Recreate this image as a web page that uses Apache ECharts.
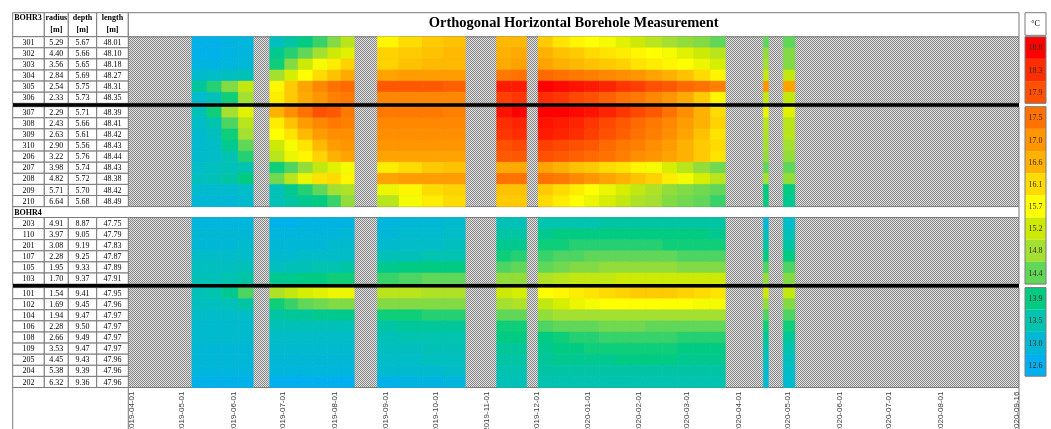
<!DOCTYPE html>
<html><head><meta charset="utf-8">
<script src="https://cdn.jsdelivr.net/npm/echarts@6/dist/echarts.min.js"></script>
<style>html,body{margin:0;padding:0;background:#fff}#c{width:1051px;height:429px}</style>
</head><body><div id="c"></div>
<script>
// ---------- DATA ----------
const colStart = ['2019-05-07','2019-05-16','2019-05-25','2019-06-04',
 '2019-06-23','2019-07-02','2019-07-10','2019-07-19','2019-07-28','2019-08-05',
 '2019-08-27','2019-09-09','2019-09-23','2019-10-06',
 '2019-11-07','2019-11-16',
 '2019-12-02','2019-12-11','2019-12-21','2019-12-30','2020-01-08','2020-01-18','2020-01-27','2020-02-05','2020-02-15','2020-02-24','2020-03-05','2020-03-15',
 '2020-04-16','2020-04-28'];
const colEnd = ['2019-05-16','2019-05-25','2019-06-04','2019-06-13',
 '2019-07-02','2019-07-10','2019-07-19','2019-07-28','2019-08-05','2019-08-13',
 '2019-09-09','2019-09-23','2019-10-06','2019-10-19',
 '2019-11-16','2019-11-25',
 '2019-12-11','2019-12-21','2019-12-30','2020-01-08','2020-01-18','2020-01-27','2020-02-05','2020-02-15','2020-02-24','2020-03-05','2020-03-15','2020-03-24',
 '2020-04-19','2020-05-05'];
const tickDates = ['2019-04-01','2019-05-01','2019-06-01','2019-07-01','2019-08-01','2019-09-01','2019-10-01','2019-11-01','2019-12-01',
 '2020-01-01','2020-02-01','2020-03-01','2020-04-01','2020-05-01','2020-06-01','2020-07-01','2020-08-01','2020-09-16'];

const bohr3UpperIds = ['301','302','303','304','305','306'];
const bohr3UpperRadius = ['5.29','4.40','3.56','2.84','2.54','2.33'];
const bohr3UpperDepth = ['5.67','5.66','5.65','5.69','5.75','5.73'];
const bohr3UpperLength = ['48.01','48.10','48.18','48.27','48.31','48.35'];
const bohr3UpperTemps = [
 [12.7,12.7,12.8,12.9, 13.3,13.6,13.9,14.2,14.6,15.0, 15.8,16.1,16.3,16.4, 16.5,16.5, 16.3,16.0,15.8,15.7,15.6,15.4,15.2,15.0,14.8,14.7,14.6,14.4, 14.4, 14.4],
 [12.7,12.7,12.8,12.9, 13.8,14.1,14.4,14.8,15.2,15.4, 16.2,16.3,16.4,16.5, 16.6,16.7, 16.6,16.4,16.3,16.1,16.0,15.9,15.8,15.7,15.6,15.4,15.2,15.0, 14.7, 14.6],
 [12.8,12.8,12.9,13.0, 14.0,14.6,15.2,15.6,15.9,16.2, 16.2,16.4,16.5,16.5, 16.7,16.8, 16.8,16.6,16.5,16.4,16.3,16.2,16.0,15.9,15.8,15.7,15.5,15.3, 14.8, 14.6],
 [13.1,13.2,13.3,13.4, 14.8,15.3,15.7,16.1,16.4,16.7, 16.8,16.9,16.9,16.9, 17.4,17.5, 17.6,17.5,17.4,17.3,17.2,17.1,17.0,16.8,16.6,16.4,16.1,15.8, 15.1, 15.1],
 [13.7,14.1,14.6,15.1, 15.8,16.3,16.8,17.2,17.5,17.6, 17.8,17.8,17.8,17.7, 18.5,18.5, 18.8,18.7,18.6,18.5,18.4,18.2,18.1,17.9,17.8,17.6,17.5,17.3, 17.0, 16.8],
 [13.1,13.4,14.0,14.8, 15.9,16.3,16.7,17.0,17.3,17.4, 17.2,17.2,17.2,17.2, 18.1,18.2, 18.3,18.2,18.0,17.9,17.7,17.5,17.4,17.2,17.0,16.7,16.3,15.8, 15.1, 15.1]
];

const bohr3LowerIds = ['307','308','309','310','206','207','208','209','210'];
const bohr3LowerRadius = ['2.29','2.43','2.63','2.90','3.22','3.98','4.82','5.71','6.64'];
const bohr3LowerDepth = ['5.71','5.66','5.61','5.56','5.76','5.74','5.72','5.70','5.68'];
const bohr3LowerLength = ['48.39','48.41','48.42','48.43','48.44','48.43','48.38','48.42','48.49'];
const bohr3LowerTemps = [
 [13.4,14.0,14.8,15.4, 16.6,17.1,17.5,17.9,17.8,17.4, 17.4,17.4,17.4,17.3, 18.6,18.8, 18.8,18.8,18.7,18.6,18.4,18.2,18.0,17.8,17.5,17.1,16.6,16.1, 15.5, 15.4],
 [13.2,13.5,14.3,15.0, 15.9,16.4,16.9,17.2,17.4,17.3, 17.2,17.2,17.2,17.2, 18.3,18.4, 18.6,18.5,18.4,18.2,18.0,17.8,17.6,17.4,17.2,16.9,16.6,16.2, 15.0, 15.0],
 [13.1,13.3,14.0,14.8, 15.7,16.0,16.5,16.9,17.1,17.1, 17.1,17.1,17.1,17.1, 18.2,18.3, 18.5,18.4,18.3,18.1,17.9,17.7,17.5,17.3,17.1,16.8,16.4,16.0, 14.9, 15.0],
 [13.1,13.2,13.8,14.4, 15.2,15.6,16.0,16.5,16.9,17.0, 17.0,17.0,17.0,17.0, 17.9,18.0, 18.1,18.0,17.9,17.8,17.6,17.4,17.3,17.1,16.9,16.6,16.3,16.1, 14.8, 14.8],
 [13.1,13.2,13.5,14.1, 15.0,15.5,15.8,16.2,16.6,16.8, 16.8,16.8,16.8,16.8, 17.8,17.8, 17.9,17.8,17.7,17.6,17.5,17.3,17.1,17.0,16.8,16.6,16.3,16.0, 14.7, 14.7],
 [13.2,13.3,13.4,13.5, 14.0,14.3,14.7,15.1,15.4,15.6, 15.9,16.1,16.3,16.4, 16.7,16.7, 16.8,16.6,16.4,16.3,16.1,16.0,15.8,15.6,15.3,15.0,14.7,14.5, 14.4, 14.4],
 [13.3,13.4,13.6,13.9, 14.5,15.0,15.5,16.0,16.1,15.8, 16.8,16.9,16.9,16.9, 17.5,17.5, 17.5,17.4,17.2,17.0,16.8,16.6,16.4,16.2,15.9,15.6,15.3,15.0, 14.8, 14.7],
 [13.1,13.1,13.1,13.2, 13.4,13.8,14.1,14.4,14.8,14.9, 15.5,15.8,16.1,16.2, 16.4,16.4, 16.3,16.1,15.9,15.7,15.5,15.3,15.1,14.9,14.7,14.6,14.5,14.4, 13.9, 13.9],
 [13.0,13.0,13.0,13.1, 13.4,13.6,13.8,13.9,14.2,14.7, 15.0,15.6,15.9,16.1, 16.3,16.3, 16.1,15.9,15.7,15.5,15.3,15.1,14.9,14.8,14.6,14.5,14.4,14.2, 13.9, 13.8]
];

const bohr4UpperIds = ['203','110','201','107','105','103'];
const bohr4UpperRadius = ['4.91','3.97','3.08','2.28','1.95','1.70'];
const bohr4UpperDepth = ['8.87','9.05','9.19','9.25','9.33','9.37'];
const bohr4UpperLength = ['47.75','47.79','47.83','47.87','47.89','47.91'];
const bohr4UpperTemps = [
 [12.9,12.9,12.9,12.9, 12.7,12.7,12.8,12.8,12.8,12.8, 12.9,13.0,13.0,13.1, 13.4,13.4, 13.5,13.5,13.5,13.5,13.6,13.6,13.6,13.6,13.6,13.6,13.6,13.6, 13.0, 13.2],
 [13.0,13.0,13.0,13.0, 12.9,12.9,12.9,12.9,12.9,13.0, 13.0,13.1,13.1,13.2, 13.6,13.6, 13.8,13.9,13.9,13.9,13.9,13.9,13.9,13.9,13.9,13.9,13.9,13.8, 13.3, 13.4],
 [13.0,13.0,13.0,13.1, 13.0,13.0,13.0,13.0,13.1,13.1, 13.1,13.2,13.2,13.3, 13.8,13.8, 14.0,14.0,14.1,14.1,14.1,14.1,14.1,14.1,14.0,14.0,14.0,14.0, 13.6, 13.6],
 [13.2,13.2,13.2,13.2, 13.1,13.1,13.2,13.2,13.2,13.2, 13.4,13.4,13.5,13.5, 14.0,14.1, 14.2,14.3,14.3,14.4,14.4,14.4,14.4,14.4,14.4,14.3,14.3,14.3, 13.9, 13.9],
 [13.3,13.3,13.3,13.4, 13.3,13.4,13.4,13.5,13.5,13.6, 13.8,13.9,13.9,13.9, 14.3,14.4, 14.4,14.5,14.6,14.6,14.7,14.7,14.7,14.7,14.7,14.6,14.6,14.6, 14.3, 14.3],
 [13.4,13.4,13.5,13.6, 13.8,13.8,13.9,13.9,14.0,14.0, 14.2,14.3,14.4,14.4, 14.7,14.7, 14.9,15.0,15.1,15.1,15.1,15.2,15.2,15.2,15.2,15.2,15.2,15.2, 14.7, 14.6]
];

const bohr4LowerIds = ['101','102','104','106','108','109','205','204','202'];
const bohr4LowerRadius = ['1.54','1.69','1.94','2.28','2.66','3.53','4.45','5.38','6.32'];
const bohr4LowerDepth = ['9.41','9.45','9.47','9.50','9.49','9.47','9.43','9.39','9.36'];
const bohr4LowerLength = ['47.95','47.96','47.97','47.97','47.97','47.97','47.96','47.96','47.96'];
const bohr4LowerTemps = [
 [13.4,13.5,13.8,14.3, 14.9,15.1,15.3,15.4,15.5,15.5, 15.0,15.0,14.9,14.9, 15.2,15.3, 15.7,15.8,15.9,16.0,16.1,16.2,16.3,16.3,16.3,16.2,16.1,16.0, 15.2, 15.1],
 [13.3,13.3,13.4,13.6, 14.0,14.2,14.4,14.5,14.6,14.6, 14.6,14.6,14.6,14.6, 14.8,14.9, 15.1,15.3,15.5,15.6,15.7,15.7,15.7,15.7,15.7,15.7,15.6,15.6, 14.7, 14.6],
 [13.2,13.2,13.2,13.2, 13.6,13.7,13.7,13.8,13.8,13.8, 14.0,14.0,14.1,14.1, 14.4,14.4, 14.7,14.8,14.8,14.8,14.8,14.8,14.8,14.8,14.8,14.8,14.8,14.8, 14.3, 14.3],
 [13.1,13.1,13.1,13.1, 13.4,13.4,13.4,13.4,13.4,13.4, 13.6,13.7,13.7,13.7, 14.0,14.0, 14.3,14.4,14.4,14.4,14.5,14.5,14.5,14.4,14.4,14.4,14.4,14.4, 14.0, 14.0],
 [13.1,13.1,13.1,13.1, 13.2,13.2,13.2,13.2,13.2,13.2, 13.4,13.5,13.5,13.5, 13.9,13.9, 13.9,14.0,14.1,14.1,14.2,14.2,14.2,14.2,14.2,14.1,14.1,14.1, 13.7, 13.7],
 [13.0,13.0,13.0,13.0, 13.1,13.1,13.1,13.1,13.1,13.1, 13.3,13.3,13.4,13.4, 13.7,13.7, 13.8,13.9,13.9,14.0,14.0,14.0,14.0,14.0,14.0,13.9,13.9,13.9, 13.5, 13.5],
 [13.0,13.0,13.0,13.0, 13.0,13.0,13.0,13.0,13.0,13.0, 13.2,13.2,13.3,13.3, 13.6,13.6, 13.7,13.8,13.8,13.8,13.8,13.9,13.9,13.9,13.9,13.8,13.8,13.8, 13.3, 13.3],
 [12.9,12.9,12.9,12.9, 12.9,12.9,12.9,12.9,12.9,12.9, 13.1,13.1,13.1,13.2, 13.5,13.5, 13.6,13.6,13.6,13.6,13.6,13.6,13.6,13.6,13.6,13.6,13.6,13.6, 13.1, 13.2],
 [12.7,12.7,12.7,12.7, 12.6,12.6,12.6,12.6,12.6,12.6, 12.7,12.8,12.8,12.9, 13.4,13.4, 13.5,13.5,13.5,13.5,13.5,13.5,13.5,13.5,13.5,13.5,13.5,13.5, 13.1, 13.1]
];

const scaleUpper = [18.8, 18.3, 17.9];
const scaleMiddle = [17.5, 17.0, 16.6, 16.1, 15.7, 15.2, 14.8, 14.4];
const scaleLower = [13.9, 13.5, 13.0, 12.6];
const scaleColors = ['#00B0F0','#00B9D2','#00C3B2','#00CC80','#5CD65C','#A6E030','#D2EC00','#FFFF00',
  '#FFD700','#FFB200','#FF9400','#FF7400','#FF5000','#FF2800','#FF0000'];

// ---------- LAYOUT ----------
const DAY = 86400000;
const ms = s => Date.parse(s + 'T00:00:00Z');
const X_MIN = ms('2019-04-01') - 2.4 * DAY;
const X_MAX = ms('2019-04-01') + 535.3 * DAY;
const L = {
  tableX: 12.7, colEdges: [0, 31.6, 55.6, 84, 115.6],
  plotX: 128.3, plotX2: 1019, cbX: 1025, cbX2: 1046,
  headY: 12.7, headY2: 36.7,
  blocks: [{top: 36.7, h: 66.6}, {top: 106.7, h: 99.9}, {top: 217.5, h: 66.6}, {top: 287.6, h: 99.9}],
  cb: [{top: 36.7, h: 66.6}, {top: 106.7, h: 177.4}, {top: 287.6, h: 88.6}]
};
const GRID_LINE = '#7a7a7a';
const SERIF = '"Liberation Serif", "DejaVu Serif", serif';

// hatch pattern
const pc = document.createElement('canvas');
pc.width = 4; pc.height = 4;
const pg = pc.getContext('2d');
pg.fillStyle = '#e2e2e2'; pg.fillRect(0, 0, 4, 4);
pg.fillStyle = '#858585';
for (let y = 0; y < 4; y++) for (let x = 0; x < 4; x++) if ((x + y) % 2 === 0) pg.fillRect(x, y, 1, 1);
const hatch = { image: pc, repeat: 'repeat' };

const blocks = [
  { ids: bohr3UpperIds, cols: [bohr3UpperIds, bohr3UpperRadius, bohr3UpperDepth, bohr3UpperLength], temps: bohr3UpperTemps },
  { ids: bohr3LowerIds, cols: [bohr3LowerIds, bohr3LowerRadius, bohr3LowerDepth, bohr3LowerLength], temps: bohr3LowerTemps },
  { ids: bohr4UpperIds, cols: [bohr4UpperIds, bohr4UpperRadius, bohr4UpperDepth, bohr4UpperLength], temps: bohr4UpperTemps },
  { ids: bohr4LowerIds, cols: [bohr4LowerIds, bohr4LowerRadius, bohr4LowerDepth, bohr4LowerLength], temps: bohr4LowerTemps }
];
const scales = [scaleUpper, scaleMiddle, scaleLower];

const grids = [], xAxes = [], yAxes = [], series = [];
const heatIdx = [], cbIdx = [];
const gridBase = { containLabel: false, outerBoundsMode: 'none' };

function heatRender(params, api) {
  const p0 = api.coord([api.value(0), api.value(2)]);
  const p1 = api.coord([api.value(1), api.value(2)]);
  const h = api.size([0, 1])[1];
  const c = api.visual('color');
  return { type: 'rect', shape: { x: p0[0], y: p0[1] - h / 2, width: p1[0] - p0[0], height: h },
    style: { fill: c, stroke: c, lineWidth: 0.5 } };
}

blocks.forEach((blk, k) => {
  const b = L.blocks[k];
  const last = k === blocks.length - 1;
  const gi = grids.length;
  grids.push(Object.assign({ left: L.plotX, top: b.top, width: L.plotX2 - L.plotX, height: b.h, show: true,
    backgroundColor: hatch, borderColor: GRID_LINE, borderWidth: 1 }, gridBase));
  xAxes.push({ gridIndex: gi, type: 'value', min: X_MIN, max: X_MAX, show: last,
    axisLine: { show: false }, axisTick: { show: false }, splitLine: { show: false },
    axisLabel: { show: last, rotate: 90, fontSize: 8, fontFamily: '"Liberation Sans", Arial, sans-serif',
      color: '#404040', margin: 4, customValues: tickDates.map(ms),
      formatter: v => new Date(v).toISOString().slice(0, 10) } });
  yAxes.push({ gridIndex: gi, type: 'category', data: blk.ids, inverse: true, show: false });
  const data = [];
  blk.temps.forEach((row, r) => row.forEach((v, c) => data.push([ms(colStart[c]), ms(colEnd[c]), r, v])));
  heatIdx.push(series.length);
  series.push({ type: 'custom', xAxisIndex: gi, yAxisIndex: gi, renderItem: heatRender,
    encode: { x: [0, 1], y: 2 }, data: data, silent: true });

  const ti = grids.length;
  grids.push(Object.assign({ left: L.tableX, top: b.top, width: L.colEdges[4], height: b.h, show: false }, gridBase));
  xAxes.push({ gridIndex: ti, type: 'value', min: 0, max: L.colEdges[4], show: false });
  yAxes.push({ gridIndex: ti, type: 'category', data: blk.ids, inverse: true, show: false });
  const tdata = [];
  blk.ids.forEach((id, r) => { for (let c = 0; c < 4; c++) tdata.push([c, r]); });
  series.push({ type: 'custom', xAxisIndex: ti, yAxisIndex: ti, encode: { x: 0, y: 1 }, data: tdata, silent: true,
    renderItem: (params, api) => {
      const c = api.value(0), r = api.value(1);
      const a = api.coord([L.colEdges[c], r]);
      const e = api.coord([L.colEdges[c + 1], r]);
      const h = api.size([0, 1])[1];
      return { type: 'group', children: [
        { type: 'rect', shape: { x: a[0], y: a[1] - h / 2, width: e[0] - a[0], height: h },
          style: { fill: '#fff', stroke: GRID_LINE, lineWidth: 1 } },
        { type: 'text', x: (a[0] + e[0]) / 2, y: a[1] + 0.5,
          style: { text: blk.cols[c][r], align: 'center', verticalAlign: 'middle',
            font: '8px ' + SERIF, fill: '#000' } }
      ] };
    } });
});

scales.forEach((vals, j) => {
  const b = L.cb[j];
  const gi = grids.length;
  grids.push(Object.assign({ left: L.cbX, top: b.top, width: L.cbX2 - L.cbX, height: b.h, show: true,
    backgroundColor: 'transparent', borderColor: GRID_LINE, borderWidth: 1, z: 10 }, gridBase));
  xAxes.push({ gridIndex: gi, type: 'value', min: 0, max: 1, show: false });
  yAxes.push({ gridIndex: gi, type: 'category', data: vals.map(v => v.toFixed(1)), inverse: true, show: false });
  cbIdx.push(series.length);
  series.push({ type: 'custom', xAxisIndex: gi, yAxisIndex: gi, encode: { x: 0, y: 1 }, silent: true,
    data: vals.map((v, i) => [0, i, v]),
    renderItem: (params, api) => {
      const a = api.coord([0, api.value(1)]);
      const e = api.coord([1, api.value(1)]);
      const h = api.size([0, 1])[1];
      const col = api.visual('color');
      return { type: 'group', children: [
        { type: 'rect', shape: { x: a[0], y: a[1] - h / 2, width: e[0] - a[0], height: h }, style: { fill: col } },
        { type: 'text', x: (a[0] + e[0]) / 2, y: a[1] + 0.5,
          style: { text: api.value(2).toFixed(1), align: 'center', verticalAlign: 'middle',
            font: '8px ' + SERIF, fill: '#3a2a1a' } }
      ] };
    } });
});

// ---------- CHROME (header, separators) ----------
const G = [];
const headH = L.headY2 - L.headY;
const headLabels = [['BOHR3', ''], ['radius', '[m]'], ['depth', '[m]'], ['length', '[m]']];
headLabels.forEach((hl, c) => {
  const x0 = L.tableX + L.colEdges[c], x1 = L.tableX + L.colEdges[c + 1];
  G.push({ type: 'rect', shape: { x: x0, y: L.headY, width: x1 - x0, height: headH },
    style: { fill: '#fff', stroke: GRID_LINE, lineWidth: 1 } });
  G.push({ type: 'text', x: c === 0 ? x0 + 1.5 : (x0 + x1) / 2, y: L.headY + 5,
    style: { text: hl[0], align: c === 0 ? 'left' : 'center', verticalAlign: 'middle', font: 'bold 8px ' + SERIF, fill: '#000' } });
  if (hl[1]) G.push({ type: 'text', x: (x0 + x1) / 2, y: L.headY + 17,
    style: { text: hl[1], align: 'center', verticalAlign: 'middle', font: 'bold 8px ' + SERIF, fill: '#000' } });
});
G.push({ type: 'rect', shape: { x: L.plotX, y: L.headY, width: L.plotX2 - L.plotX, height: headH },
  style: { fill: '#fff', stroke: GRID_LINE, lineWidth: 1 } });
G.push({ type: 'text', x: (L.plotX + L.plotX2) / 2, y: L.headY + 11,
  style: { text: 'Orthogonal Horizontal Borehole Measurement', align: 'center', verticalAlign: 'middle',
    font: 'bold 14.5px ' + SERIF, fill: '#000' } });
G.push({ type: 'rect', shape: { x: L.cbX, y: L.headY, width: L.cbX2 - L.cbX, height: 22.6 },
  style: { fill: '#fff', stroke: GRID_LINE, lineWidth: 1 } });
G.push({ type: 'text', x: (L.cbX + L.cbX2) / 2, y: L.headY + 11,
  style: { text: '°C', align: 'center', verticalAlign: 'middle', font: '8px ' + SERIF, fill: '#000' } });
const b4y = L.blocks[1].top + L.blocks[1].h;
G.push({ type: 'rect', shape: { x: L.tableX, y: b4y, width: L.plotX2 - L.tableX, height: L.blocks[2].top - b4y },
  style: { fill: '#fff', stroke: GRID_LINE, lineWidth: 1 } });
G.push({ type: 'text', x: L.tableX + 1.5, y: (b4y + L.blocks[2].top) / 2 + 0.5,
  style: { text: 'BOHR4', align: 'left', verticalAlign: 'middle', font: 'bold 8px ' + SERIF, fill: '#000' } });
[[0, 1], [2, 3]].forEach(([a, b]) => {
  const y0 = L.blocks[a].top + L.blocks[a].h, y1 = L.blocks[b].top;
  G.push({ type: 'rect', z: 50, shape: { x: L.tableX, y: y0, width: L.plotX2 - L.tableX, height: y1 - y0 },
    style: { fill: '#000' } });
});
const yb = L.blocks[3].top + L.blocks[3].h;
[L.tableX, L.plotX, L.plotX2].forEach(x => G.push({ type: 'line', shape: { x1: x, y1: yb, x2: x, y2: 429 },
  style: { stroke: GRID_LINE, lineWidth: 1 } }));
G.push({ type: 'line', shape: { x1: L.tableX, y1: yb, x2: L.plotX, y2: yb }, style: { stroke: GRID_LINE, lineWidth: 1 } });

const chart = echarts.init(document.getElementById('c'), null, { renderer: 'canvas' });
chart.setOption({
  animation: false,
  backgroundColor: '#fff',
  grid: grids, xAxis: xAxes, yAxis: yAxes,
  visualMap: [
    { type: 'continuous', show: false, min: 12.6, max: 18.8, dimension: 3, seriesIndex: heatIdx, inRange: { color: scaleColors } },
    { type: 'continuous', show: false, min: 12.6, max: 18.8, dimension: 2, seriesIndex: cbIdx, inRange: { color: scaleColors } }
  ],
  series: series,
  graphic: { elements: G }
});
</script></body></html>
